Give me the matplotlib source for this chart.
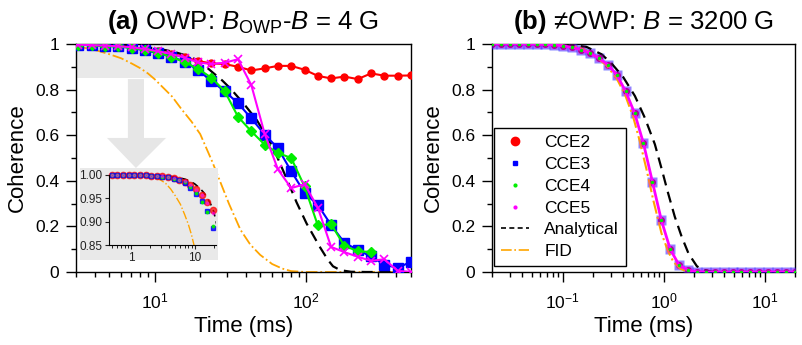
import matplotlib
matplotlib.use("Agg")
import matplotlib.pyplot as plt
from matplotlib.lines import Line2D
from matplotlib.patches import Rectangle, Polygon
from matplotlib.ticker import FuncFormatter, MultipleLocator, LogLocator, NullFormatter, FixedLocator

plt.rcParams['font.family'] = ['Liberation Sans', 'DejaVu Sans']
plt.rcParams['mathtext.fontset'] = 'custom'
plt.rcParams['mathtext.rm'] = 'Liberation Sans'
plt.rcParams['mathtext.it'] = 'Liberation Sans:italic'
plt.rcParams['mathtext.bf'] = 'Liberation Sans:bold'

# ---- panel (a): OWP, times in ms ----
t_a = [0.5, 0.6126, 0.7505, 0.9198, 1.1269, 1.3808, 1.6918, 2.0729, 2.5398, 3.1119,
       3.8128, 4.6716, 5.7238, 7.0130, 8.5926, 10.532, 12.904, 15.810, 19.371, 23.734,
       29.080, 35.630, 43.655, 53.487, 65.535, 80.296, 98.42, 120.6, 147.7, 181.0,
       221.8, 271.8, 333.0, 408.0, 500.0]
cce2_a = [1.0, 1.0, 1.0, 1.0, 1.0, 0.999, 0.999, 0.998, 0.998, 0.997,
          0.995, 0.993, 0.99, 0.985, 0.978, 0.969, 0.958, 0.942, 0.925, 0.915,
          0.912, 0.9, 0.884, 0.893, 0.904, 0.904, 0.887, 0.86, 0.849, 0.857,
          0.846, 0.871, 0.861, 0.861, 0.862]
cce3_a = [1.0, 1.0, 1.0, 1.0, 1.0, 0.999, 0.999, 0.998, 0.998, 0.996,
          0.995, 0.992, 0.989, 0.983, 0.972, 0.96, 0.944, 0.922, 0.886, 0.837,
          0.793, 0.74, 0.674, 0.603, 0.543, 0.442, 0.348, 0.294, 0.206, 0.128,
          0.097, 0.068, 0.032, 0.018, 0.045]
cce4_a = [1.0, 1.0, 1.0, 1.0, 1.0, 0.999, 0.999, 0.998, 0.998, 0.996,
          0.995, 0.992, 0.989, 0.984, 0.974, 0.962, 0.943, 0.92, 0.891, 0.852,
          0.793, 0.681, 0.617, 0.559, 0.522, 0.50, 0.375, 0.204, 0.21, 0.114,
          0.092, 0.087]
cce5_a = [1.0, 1.0, 1.0, 1.0, 1.0, 0.999, 0.999, 0.998, 0.998, 0.997,
          0.995, 0.993, 0.99, 0.986, 0.978, 0.968, 0.956, 0.94, 0.919, 0.912,
          0.918, 0.933, 0.82, 0.607, 0.45, 0.368, 0.385, 0.282, 0.11, 0.087,
          0.067, 0.049, 0.056, 0.005, 0.0]
ana_a_t = [0.5, 1, 2, 3, 4, 5, 6, 7, 8, 10, 12, 14, 16, 18, 20, 24.5, 28, 31.6,
           38.7, 47.4, 58, 64.3, 74.8, 87.2, 101.5, 124, 140, 152, 170, 200, 250, 500]
ana_a_v = [1.0, 1.0, 0.9995, 0.998, 0.997, 0.995, 0.993, 0.991, 0.988, 0.981, 0.972,
           0.962, 0.95, 0.937, 0.922, 0.872, 0.84, 0.806, 0.74, 0.667, 0.57, 0.51,
           0.41, 0.305, 0.213, 0.111, 0.055, 0.025, 0.008, 0.001, 0.0, 0.0]
fid_a_t = [0.5, 1.0, 1.5, 2.0, 2.5, 3.0, 3.5, 4.2, 5.0, 6.0, 7.0, 8.0, 9.0, 10.0,
           11.5, 13, 15, 17.5, 20, 24, 27, 31, 37, 43, 50, 60, 70, 80, 100, 500]
fid_a_v = [1.0, 0.9995, 0.998, 0.996, 0.993, 0.988, 0.982, 0.970, 0.955, 0.937,
           0.915, 0.894, 0.871, 0.845, 0.805, 0.77, 0.715, 0.66, 0.605, 0.485,
           0.40, 0.30, 0.185, 0.12, 0.075, 0.035, 0.015, 0.004, 0.0, 0.0]

# ---- panel (b): away from OWP ----
t_b = [0.02, 0.0245, 0.0300, 0.0368, 0.0451, 0.0552, 0.0677, 0.0829, 0.1016, 0.1245,
       0.1525, 0.1869, 0.2290, 0.2805, 0.3437, 0.4213, 0.5162, 0.6324, 0.7748, 0.9494,
       1.1632, 1.4252, 1.7462, 2.1395, 2.6215, 3.2118, 3.9354, 4.8218, 5.9078, 7.2386,
       8.8690, 10.867, 13.314, 16.313, 20.0]
cce_b = [1.0, 1.0, 1.0, 1.0, 0.999, 0.999, 0.998, 0.996, 0.992, 0.985,
         0.975, 0.96, 0.937, 0.909, 0.865, 0.792, 0.697, 0.564, 0.396, 0.228,
         0.1, 0.03, 0.008, 0.001, 0.0, 0.0, 0.0, 0.0, 0.0, 0.0,
         0.0, 0.0, 0.0, 0.0, 0.0]
ana_b_t = [0.02, 0.05, 0.08, 0.1, 0.127, 0.173, 0.243, 0.305, 0.398, 0.52, 0.654,
           0.82, 0.953, 1.11, 1.29, 1.51, 1.77, 2.14, 2.5, 3.0, 4.0, 20.0]
ana_b_v = [1.0, 1.0, 0.999, 0.998, 0.995, 0.987, 0.955, 0.915, 0.855, 0.772, 0.675,
           0.56, 0.455, 0.345, 0.243, 0.155, 0.08, 0.025, 0.008, 0.001, 0.0, 0.0]
fid_b_t = [0.02, 0.05, 0.1, 0.15, 0.2, 0.273, 0.342, 0.415, 0.5, 0.58, 0.68, 0.79,
           0.953, 1.11, 1.25, 1.45, 1.7, 2.0, 20.0]
fid_b_v = [1.0, 1.0, 0.997, 0.983, 0.955, 0.905, 0.85, 0.778, 0.68, 0.575, 0.447,
           0.316, 0.17, 0.09, 0.045, 0.015, 0.003, 0.0, 0.0]

RED, BLUE, GREEN, MAG, ORANGE = '#ff0000', '#0000ff', '#00ee00', '#ff00ff', '#ffa500'

fig = plt.figure(figsize=(8.03, 3.45), dpi=100)
ax1 = fig.add_axes([0.0946, 0.2116, 0.4172, 0.6609])
ax2 = fig.add_axes([0.6127, 0.2116, 0.3773, 0.6609])


def style(ax):
    ax.set_xscale('log')
    ax.set_ylim(0, 1)
    ax.yaxis.set_major_locator(MultipleLocator(0.2))
    ax.yaxis.set_minor_locator(MultipleLocator(0.1))
    ax.yaxis.set_major_formatter(FuncFormatter(lambda v, _: f"{v:g}"))
    ax.xaxis.set_minor_locator(LogLocator(base=10, subs=range(2, 10), numticks=20))
    ax.xaxis.set_minor_formatter(NullFormatter())
    ax.tick_params(which='major', direction='out', length=7, width=1, labelsize=12.5)
    ax.tick_params(axis='y', which='major', pad=5)
    ax.tick_params(axis='x', which='major', pad=7)
    ax.tick_params(which='minor', direction='out', length=3.6, width=1)
    for s in ax.spines.values():
        s.set_linewidth(1)
    ax.set_xlabel('Time (ms)', fontsize=16, labelpad=3)
    ax.set_ylabel('Coherence', fontsize=16, labelpad=5)


# panel (a)
style(ax1)
ax1.set_xlim(3, 500)
ax1.add_patch(Rectangle((3, 0.85), 17, 0.15, facecolor='#e9e9e9', edgecolor='none', zorder=0.5))
arrow = [(0.155, 0.846), (0.203, 0.846), (0.203, 0.588), (0.269, 0.588),
         (0.179, 0.456), (0.0925, 0.588), (0.155, 0.588)]
ax1.add_patch(Polygon(arrow, closed=True, transform=ax1.transAxes,
                      facecolor='#e6e6e6', edgecolor='none', zorder=0.5))
ax1.plot(fid_a_t, fid_a_v, color=ORANGE, ls='-.', lw=1.3, zorder=2)
ax1.plot(ana_a_t, ana_a_v, color='black', ls=(0, (5, 3)), lw=1.6, zorder=2)
ax1.plot(t_a, cce2_a, color=RED, marker='o', ms=5, lw=1.5, zorder=3)
ax1.plot(t_a, cce3_a, color=BLUE, marker='s', ms=7, lw=1.5, zorder=3)
ax1.plot(t_a[:len(cce4_a)], cce4_a, color=GREEN, marker='D', ms=5, lw=1.5, zorder=3)
ax1.plot(t_a, cce5_a, color=MAG, marker='x', ms=6, mew=1.2, lw=1.5, zorder=3)
ax1.set_title(r'$\bf{(a)}$ OWP: $B_{\rm OWP}$-$B$ = 4 G', fontsize=18.5, pad=11)

# inset of (a)
ax1.add_patch(Rectangle((0.012, 0.053), 0.412, 0.403, transform=ax1.transAxes,
                        facecolor='#e9e9e9', edgecolor='none', zorder=4))
axi = ax1.inset_axes([0.0985, 0.118, 0.3185, 0.308])
axi.set_zorder(5)
axi.patch.set_visible(False)
axi.set_xscale('log')
axi.set_xlim(0.45, 21.5)
axi.set_ylim(0.85, 1.0)
axi.spines['top'].set_visible(False)
axi.spines['right'].set_visible(False)
axi.yaxis.set_major_locator(FixedLocator([0.85, 0.90, 0.95, 1.00]))
axi.yaxis.set_major_formatter(FuncFormatter(lambda v, _: f"{v:.2f}"))
axi.xaxis.set_major_formatter(FuncFormatter(lambda v, _: f"{v:g}"))
axi.xaxis.set_minor_locator(LogLocator(base=10, subs=range(2, 10), numticks=20))
axi.xaxis.set_minor_formatter(NullFormatter())
axi.tick_params(which='major', length=3, width=0.8, labelsize=8.5, pad=2, colors='#222222')
axi.tick_params(which='minor', length=2, width=0.6)
axi.plot(fid_a_t, fid_a_v, color=ORANGE, ls='-.', lw=1.0)
axi.plot(ana_a_t, ana_a_v, color='black', ls=(0, (4, 3)), lw=1.2)
n = 19
axi.plot(t_a[:n], cce2_a[:n], 'o', color=RED, ms=4.5, alpha=0.7, clip_on=False)
axi.plot(t_a[:n], cce3_a[:n], 's', color=BLUE, ms=3.5, alpha=0.8, clip_on=False)
axi.plot(t_a[:n], cce4_a[:n], '.', color=GREEN, ms=3.5, alpha=0.9, clip_on=False)
axi.plot(t_a[:n], cce5_a[:n], '.', color=MAG, ms=3.5, alpha=0.5, clip_on=False)

# panel (b)
style(ax2)
ax2.set_xlim(0.02, 20)
ax2.plot(t_b, cce_b, 'o', color=RED, ms=4, zorder=2)
ax2.plot(t_b, cce_b, 's', color=BLUE, ms=6.5, alpha=0.45, mec='none', zorder=3)
ax2.plot(fid_b_t, fid_b_v, color=ORANGE, ls='-.', lw=1.5, zorder=3)
ax2.plot(ana_b_t, ana_b_v, color='black', ls=(0, (5, 3)), lw=1.6, zorder=3)
ax2.plot(t_b, cce_b, '-', color=MAG, lw=2, zorder=4)
ax2.plot(t_b, cce_b, 's', color=MAG, ms=5.5, alpha=0.3, mec='none', zorder=4)
ax2.plot(t_b, cce_b, '.', color=GREEN, ms=3, zorder=5)
ax2.set_title(r'$\bf{(b)}$ ≠OWP: $B$ = 3200 G', fontsize=18.5, pad=11)

handles = [
    Line2D([], [], ls='none', marker='o', color=RED, ms=6),
    Line2D([], [], ls='none', marker='s', color=BLUE, ms=3.5),
    Line2D([], [], ls='none', marker='.', color=GREEN, ms=4),
    Line2D([], [], ls='none', marker='.', color=MAG, ms=4),
    Line2D([], [], ls=(0, (3, 2)), color='black', lw=1.2),
    Line2D([], [], ls='-.', color=ORANGE, lw=1.2),
]
labels = ['CCE2', 'CCE3', 'CCE4', 'CCE5', 'Analytical', 'FID']
leg = ax2.legend(handles, labels, loc='lower left', bbox_to_anchor=(0.007, 0.026),
                 borderaxespad=0, fontsize=12.5, frameon=True, fancybox=False,
                 edgecolor='black', framealpha=1, labelspacing=0.38,
                 handlelength=1.6, handletextpad=0.9, borderpad=0.4)
leg.get_frame().set_linewidth(1)

fig.savefig('out.png', dpi=100)
